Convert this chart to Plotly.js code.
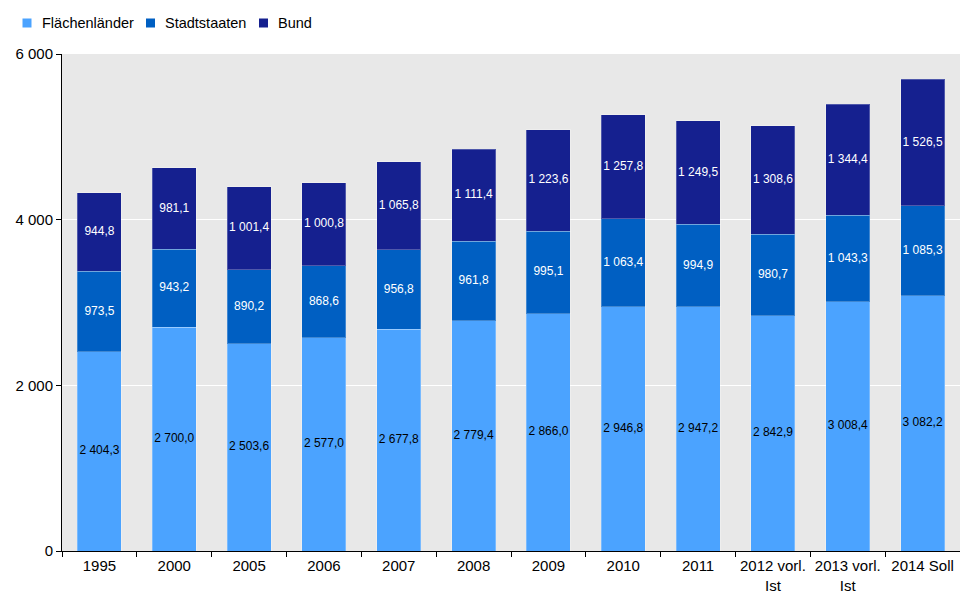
<!DOCTYPE html>
<html>
<head>
<meta charset="utf-8">
<script src="https://cdn.plot.ly/plotly-3.0.1.min.js"></script>
<style>html,body{margin:0;padding:0;background:#fff;}#chart{width:960px;height:592px;}</style>
</head>
<body>
<div id="chart"></div>
<script>
const categories = ["1995","2000","2005","2006","2007","2008","2009","2010","2011","2012 vorl.<br>Ist","2013 vorl.<br>Ist","2014 Soll"];
const flaechenlaender = [2404.3, 2700.0, 2503.6, 2577.0, 2677.8, 2779.4, 2866.0, 2946.8, 2947.2, 2842.9, 3008.4, 3082.2];
const stadtstaaten = [973.5, 943.2, 890.2, 868.6, 956.8, 961.8, 995.1, 1063.4, 994.9, 980.7, 1043.3, 1085.3];
const bund = [944.8, 981.1, 1001.4, 1000.8, 1065.8, 1111.4, 1223.6, 1257.8, 1249.5, 1308.6, 1344.4, 1526.5];
const seriesNames = ["Flächenländer", "Stadtstaaten", "Bund"];
const yTicks = [0, 2000, 4000, 6000];

const FONT = "Liberation Sans, Arial, sans-serif";
const colors = ["#4BA3FF", "#005FC2", "#15208F"];
const textColors = ["#000000", "#ffffff", "#ffffff"];
const series = [flaechenlaender, stadtstaaten, bund];
const fmt = v => v.toLocaleString("de-DE", {minimumFractionDigits: 1, maximumFractionDigits: 1}).replace(/\./g, " ");

const traces = [];
series.forEach((vals, i) => {
  traces.push({
    type: "bar", name: seriesNames[i], x: categories, y: vals,
    marker: {color: colors[i], line: {color: "rgba(255,255,255,0.25)", width: 1}},
    width: 0.59, hoverinfo: "skip"
  });
});
// labels centered in each segment
const base = categories.map(() => 0);
series.forEach((vals, i) => {
  const mids = vals.map((v, j) => base[j] + v / 2);
  vals.forEach((v, j) => { base[j] += v; });
  traces.push({
    type: "scatter", mode: "text", x: categories, y: mids,
    text: vals.map(fmt),
    textposition: "middle center",
    textfont: {family: FONT, size: 12, color: textColors[i]},
    showlegend: false, hoverinfo: "skip", cliponaxis: false
  });
});

// custom legend (pixel layout)
const legendSquareX = [22.5, 146, 259];
const legendY = 23;
const W = 960, H = 592;
const shapes = [], annotations = [];
seriesNames.forEach((n, i) => {
  const x0 = legendSquareX[i];
  shapes.push({
    type: "rect", xref: "paper", yref: "paper",
    x0: (x0 - 62) / 898, x1: (x0 + 9 - 62) / 898,
    y0: (551 - (legendY + 4.5)) / 497, y1: (551 - (legendY - 4.5)) / 497,
    fillcolor: colors[i], line: {width: 0}
  });
  annotations.push({
    xref: "paper", yref: "paper", x: (x0 + 17 - 62) / 898, y: (551 - legendY) / 497,
    xanchor: "left", yanchor: "middle", showarrow: false, text: n,
    font: {family: FONT, size: 14.5, color: "#000"}
  });
});

const layout = {
  width: W, height: H,
  margin: {l: 62, r: 0, t: 54, b: 41},
  barmode: "stack",
  separators: ", ",
  paper_bgcolor: "#ffffff",
  plot_bgcolor: "#E8E8E8",
  font: {family: FONT, size: 15, color: "#000"},
  showlegend: false,
  shapes: shapes,
  annotations: annotations,
  xaxis: {
    type: "category", showline: true, linecolor: "#000", linewidth: 1,
    ticks: "outside", tickson: "boundaries", ticklen: 5, tickcolor: "#000",
    showgrid: false, tickfont: {size: 15}, tickangle: 0, range: [-0.5, 11.5], ticklabelstandoff: 1
  },
  yaxis: {
    range: [0, 6000], tickvals: yTicks, ticktext: yTicks.map(v => v.toLocaleString("de-DE").replace(/\./g, " ")),
    showline: true, linecolor: "#000", linewidth: 1,
    ticks: "outside", ticklen: 5, tickcolor: "#000",
    showgrid: true, gridcolor: "#ffffff", gridwidth: 1, zeroline: false,
    tickfont: {size: 15}
  }
};

Plotly.newPlot("chart", traces, layout, {displayModeBar: false, staticPlot: true});
</script>
</body>
</html>
